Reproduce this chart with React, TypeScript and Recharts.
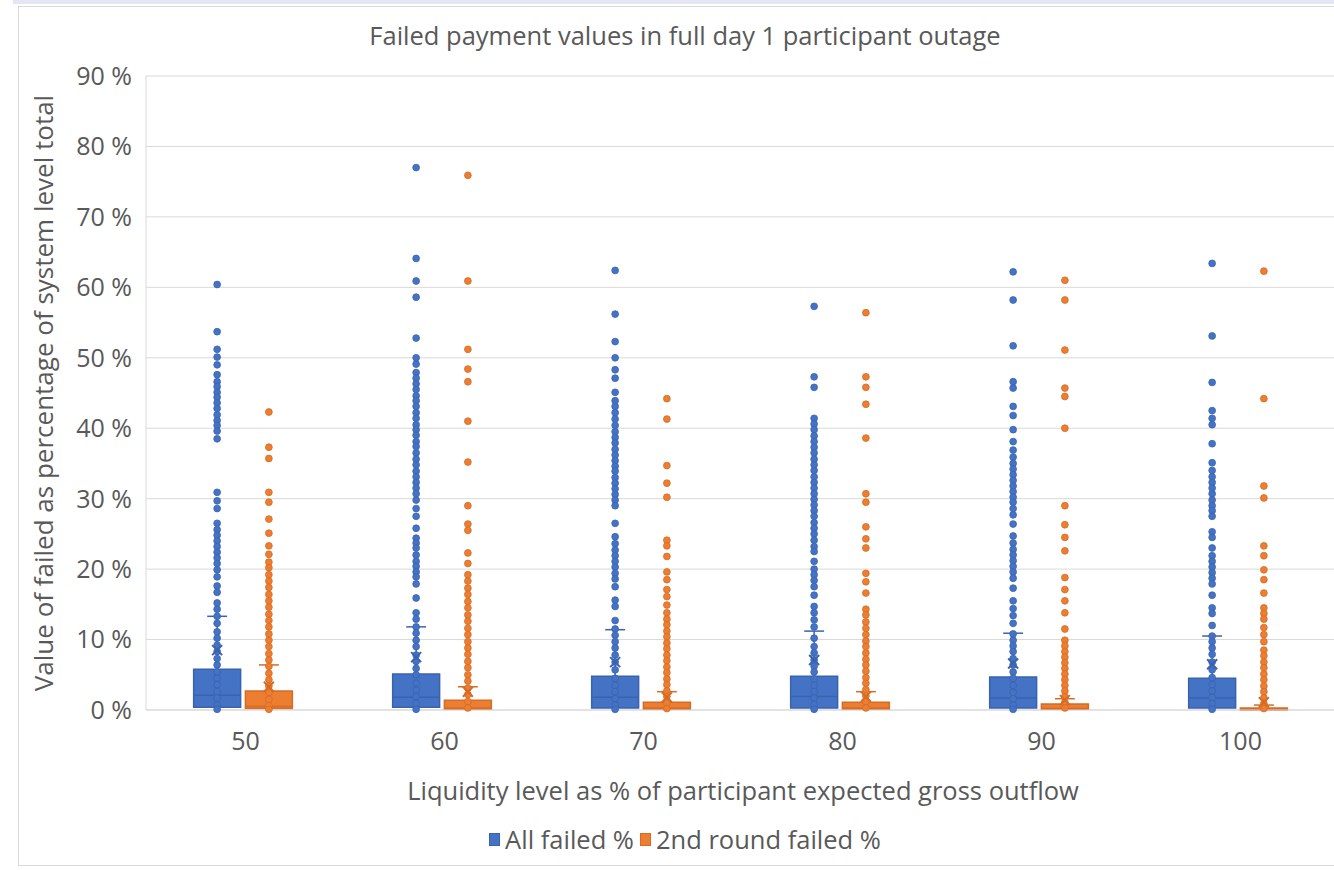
import React from 'react';
import {
  ComposedChart,
  Scatter,
  XAxis,
  YAxis,
  CartesianGrid,
  ReferenceArea,
  ReferenceLine,
} from 'recharts';

const levels = ['50', '60', '70', '80', '90', '100'];
const yTicks = [0, 10, 20, 30, 40, 50, 60, 70, 80, 90];

// box statistics, % of system level total
const allQ1 = [0.4, 0.4, 0.3, 0.3, 0.3, 0.3];
const allMedian = [2.1, 1.8, 1.8, 1.9, 1.7, 1.7];
const allQ3 = [5.8, 5.1, 4.8, 4.8, 4.7, 4.5];
const allMean = [8.5, 7.5, 6.8, 7.1, 6.6, 6.5];
const allWhisker = [13.3, 11.8, 11.4, 11.2, 10.9, 10.5];

const r2Q1 = [0.2, 0.1, 0.1, 0.1, 0.1, 0.0];
const r2Median = [0.5, 0.3, 0.3, 0.3, 0.2, 0.1];
const r2Q3 = [2.7, 1.4, 1.1, 1.1, 0.85, 0.3];
const r2Mean = [3.3, 2.6, 1.8, 1.9, 1.4, 1.1];
const r2Whisker = [6.4, 3.3, 2.6, 2.6, 1.6, 0.7];

// individual runs (all points shown)
const allFailed50 = [60.4, 53.7, 51.2, 50.1, 49.0, 47.6, 46.6, 45.9, 45.1, 44.4, 43.6, 42.8, 41.9, 41.1, 40.4, 39.6, 38.5,
  30.9, 29.7, 28.6, 26.5, 25.6, 24.8, 24.0, 23.2, 22.4, 21.6, 20.8, 19.9, 18.9, 17.6, 16.7, 15.2, 14.3, 13.3, 12.3,
  11.1, 10.2, 9.2, 8.3, 7.3, 6.4, 5.4, 4.5, 3.6, 2.6, 1.7, 0.7, 0.1];
const allFailed60 = [77.0, 64.1, 60.9, 58.6, 52.8, 50.0, 49.1, 47.9, 47.1, 46.3, 45.5, 44.6, 43.9, 43.1, 42.2, 41.4, 40.5,
  39.8, 39.0, 38.1, 37.4, 36.5, 35.6, 34.8, 33.9, 33.1, 32.3, 31.5, 30.7, 29.8, 28.6, 27.5, 25.8, 24.4, 23.7, 23.0,
  22.0, 21.1, 20.4, 19.6, 18.9, 17.9, 15.9, 13.8, 12.9, 11.8, 10.9, 9.9, 9.0, 7.8, 6.9, 5.9, 5.0, 3.8, 2.8, 1.9, 0.9, 0.1];
const allFailed70 = [62.4, 56.2, 52.3, 50.0, 48.3, 47.1, 45.1, 43.9, 43.1, 42.2, 41.3, 40.4, 39.5, 38.7, 37.9, 37.0, 36.2,
  35.4, 34.6, 33.9, 33.0, 32.2, 31.4, 30.6, 29.8, 29.0, 26.5, 24.6, 23.6, 22.7, 21.9, 21.1, 20.3, 19.4, 18.6, 17.5,
  15.6, 14.7, 12.7, 11.5, 10.6, 9.7, 8.8, 7.8, 6.8, 5.7, 4.5, 3.5, 2.6, 1.6, 0.7, 0.1];
const allFailed80 = [57.3, 47.3, 45.8, 41.4, 40.6, 39.8, 38.9, 38.1, 37.3, 36.5, 35.6, 34.8, 34.0, 33.1, 32.3, 31.5, 30.7,
  29.9, 29.1, 28.3, 27.5, 26.6, 25.8, 25.0, 24.1, 23.2, 22.5, 21.1, 20.0, 19.2, 18.4, 17.5, 16.3, 14.7, 13.8, 12.8,
  11.8, 10.2, 9.0, 8.1, 7.1, 6.2, 5.4, 4.4, 3.5, 2.6, 1.7, 0.8, 0.1];
const allFailed90 = [62.2, 58.2, 51.7, 46.6, 45.7, 43.1, 41.8, 39.8, 38.1, 36.9, 35.9, 35.0, 34.2, 33.4, 32.6, 31.8, 31.0,
  30.2, 29.5, 28.6, 27.7, 26.4, 24.7, 23.7, 22.8, 22.0, 21.2, 20.4, 19.6, 18.7, 17.3, 15.5, 14.4, 13.4, 12.3, 10.8,
  9.9, 9.1, 8.3, 7.3, 6.4, 5.4, 4.5, 3.5, 2.5, 1.6, 0.7, 0.1];
const allFailed100 = [63.4, 53.1, 46.5, 42.5, 41.4, 40.5, 37.8, 35.1, 34.0, 33.1, 32.3, 31.5, 30.7, 29.8, 29.0, 28.3, 27.5,
  25.3, 24.5, 23.0, 21.9, 21.1, 20.3, 19.5, 18.7, 17.9, 16.3, 14.5, 13.7, 12.0, 10.5, 9.7, 8.8, 7.9, 6.8, 5.7,
  4.6, 3.6, 2.7, 1.8, 0.9, 0.1];

const round2Failed50 = [42.3, 37.3, 35.7, 30.9, 29.5, 27.1, 25.1, 23.3, 22.1, 21.0, 20.2, 19.2, 18.3, 17.4, 16.4, 15.5,
  14.6, 13.6, 12.7, 11.8, 10.8, 9.9, 9.0, 8.0, 7.1, 6.2, 5.2, 4.3, 3.4, 2.5, 1.5, 0.6, 0.1];
const round2Failed60 = [75.9, 60.9, 51.2, 48.4, 46.6, 41.0, 35.2, 29.0, 26.4, 25.5, 22.3, 20.8, 19.2, 18.3, 17.3, 16.4,
  15.4, 14.5, 13.5, 12.6, 11.6, 10.7, 9.7, 8.8, 7.9, 6.9, 6.0, 5.0, 4.1, 3.1, 2.2, 1.2, 0.3];
const round2Failed70 = [44.2, 41.3, 34.7, 32.2, 30.2, 24.1, 23.3, 21.8, 19.6, 18.5, 17.1, 16.1, 14.9, 13.8, 12.9, 12.1,
  11.2, 10.4, 9.5, 8.7, 7.8, 7.0, 6.1, 5.3, 4.4, 3.6, 2.7, 1.9, 1.0, 0.2];
const round2Failed80 = [56.4, 47.3, 45.8, 43.4, 38.6, 30.7, 29.5, 26.0, 24.3, 23.0, 19.4, 18.2, 16.6, 14.3, 13.5, 12.5,
  11.6, 10.7, 9.8, 9.0, 8.1, 7.2, 6.4, 5.5, 4.6, 3.8, 2.9, 2.0, 1.2, 0.3];
const round2Failed90 = [61.0, 58.2, 51.1, 45.7, 44.5, 40.0, 29.0, 26.3, 24.5, 22.6, 18.8, 17.1, 15.5, 13.8, 11.5, 9.9,
  9.1, 8.3, 7.5, 6.7, 5.9, 5.1, 4.3, 3.5, 2.7, 1.9, 1.1, 0.3];
const round2Failed100 = [62.3, 44.2, 31.8, 30.1, 23.3, 21.9, 19.9, 18.5, 16.6, 14.5, 13.7, 12.9, 11.7, 10.7, 9.7, 8.5,
  7.7, 6.8, 6.0, 5.1, 4.3, 3.4, 2.6, 1.7, 0.9, 0.2];

const BOX_W = 0.236;
const CAP_W = 0.1;
const TEXT = '#595959';
const GRID = '#d9d9d9';
const FONT = '"Open Sans", sans-serif';

const series = [
  {
    name: 'All failed %', fill: '#4472C4', edge: '#3A63AE', offset: -0.1425,
    points: [allFailed50, allFailed60, allFailed70, allFailed80, allFailed90, allFailed100],
    q1: allQ1, median: allMedian, q3: allQ3, mean: allMean, whisker: allWhisker,
  },
  {
    name: '2nd round failed %', fill: '#ED7D31', edge: '#D46C26', offset: 0.1175,
    points: [round2Failed50, round2Failed60, round2Failed70, round2Failed80, round2Failed90, round2Failed100],
    q1: r2Q1, median: r2Median, q3: r2Q3, mean: r2Mean, whisker: r2Whisker,
  },
];

const Dot = (fill: string, edge: string) => (p: any) => (
  <circle cx={p.cx} cy={p.cy} r={3.4} fill={fill} stroke={edge} strokeWidth={0.8} />
);

const MeanMark = (edge: string) => (p: any) => (
  <g stroke={edge} strokeWidth={2}>
    <line x1={p.cx - 5} y1={p.cy - 5} x2={p.cx + 5} y2={p.cy + 5} />
    <line x1={p.cx - 5} y1={p.cy + 5} x2={p.cx + 5} y2={p.cy - 5} />
  </g>
);

export default function App() {
  return (
    <div
      style={{
        position: 'absolute', left: 0, top: 0, width: 1334, height: 870,
        overflow: 'hidden', background: '#fff', fontFamily: FONT,
      }}
    >
      <div style={{ position: 'absolute', left: 13, top: 0, width: 1330, height: 4, background: '#e4e6f4' }} />
      <div style={{ position: 'absolute', left: 18, top: 6, width: 1400, height: 858, border: `1px solid ${GRID}` }} />
      <div
        style={{
          position: 'absolute', left: 0, top: 18, width: 1370, textAlign: 'center',
          fontSize: 25.5, color: TEXT,
        }}
      >
        Failed payment values in full day 1 participant outage
      </div>

      <div style={{ position: 'absolute', left: 0, top: 0 }}>
        <ComposedChart width={1376} height={870} margin={{ top: 76, right: 36, bottom: 65, left: 46 }}>
          <CartesianGrid vertical={false} stroke={GRID} />
          <XAxis
            type="number"
            dataKey="x"
            domain={[0, 6]}
            ticks={[0.5, 1.5, 2.5, 3.5, 4.5, 5.5]}
            tickFormatter={(v: number) => levels[Math.floor(v)]}
            axisLine={{ stroke: GRID }}
            tickLine={false}
            tick={{ fill: TEXT, fontSize: 25 }}
            tickMargin={16}
            height={95}
            label={{
              value: 'Liquidity level as % of participant expected gross outflow',
              position: 'insideBottom', offset: 5, fill: TEXT, fontSize: 25.5,
            }}
          />
          <YAxis
            type="number"
            dataKey="y"
            domain={[0, 90]}
            ticks={yTicks}
            tickFormatter={(v: number) => `${v} %`}
            axisLine={{ stroke: GRID }}
            tickLine={false}
            tick={{ fill: TEXT, fontSize: 25 }}
            tickMargin={8}
            width={100}
            label={{
              value: 'Value of failed  as percentage of system level total',
              angle: -90, position: 'insideLeft', offset: -2, fill: TEXT, fontSize: 26,
              style: { textAnchor: 'middle', whiteSpace: 'pre' },
            }}
          />

          {series.flatMap((s) =>
            levels.map((lv, i) => {
              const c = i + 0.5 + s.offset;
              return (
                <ReferenceArea
                  key={`box-${s.name}-${lv}`}
                  x1={c - BOX_W / 2}
                  x2={c + BOX_W / 2}
                  y1={s.q1[i]}
                  y2={s.q3[i]}
                  fill={s.fill}
                  fillOpacity={1}
                  stroke={s.edge}
                  strokeWidth={1.5}
                />
              );
            })
          )}
          {series.flatMap((s) =>
            levels.flatMap((lv, i) => {
              const c = i + 0.5 + s.offset;
              return [
                <ReferenceLine key={`med-${s.name}-${lv}`} stroke={s.edge} strokeWidth={1.5}
                  segment={[{ x: c - BOX_W / 2, y: s.median[i] }, { x: c + BOX_W / 2, y: s.median[i] }]} />,
                <ReferenceLine key={`wh-${s.name}-${lv}`} stroke={s.edge} strokeWidth={1.5}
                  segment={[{ x: c, y: s.q3[i] }, { x: c, y: s.whisker[i] }]} />,
                <ReferenceLine key={`cap-${s.name}-${lv}`} stroke={s.edge} strokeWidth={1.5}
                  segment={[{ x: c - CAP_W / 2, y: s.whisker[i] }, { x: c + CAP_W / 2, y: s.whisker[i] }]} />,
              ];
            })
          )}

          {series.map((s) => (
            <Scatter
              key={`pts-${s.name}`}
              name={s.name}
              data={s.points.flatMap((vals, i) => vals.map((v) => ({ x: i + 0.5 + s.offset, y: v })))}
              shape={Dot(s.fill, s.edge)}
              isAnimationActive={false}
            />
          ))}
          {series.map((s) => (
            <Scatter
              key={`mean-${s.name}`}
              data={s.mean.map((v, i) => ({ x: i + 0.5 + s.offset, y: v }))}
              shape={MeanMark(s.edge)}
              legendType="none"
              isAnimationActive={false}
            />
          ))}
        </ComposedChart>
      </div>

      <div
        style={{
          position: 'absolute', left: 0, top: 822, width: 1376, display: 'flex',
          justifyContent: 'center', alignItems: 'center', fontSize: 25.5, color: TEXT,
        }}
      >
        {series.map((s) => (
          <span key={s.name} style={{ display: 'flex', alignItems: 'center', marginRight: 6 }}>
            <span style={{ width: 11, height: 13, background: s.fill, border: `1px solid ${s.edge}`, marginRight: 5, boxSizing: 'border-box' }} />
            {s.name}
          </span>
        ))}
      </div>
    </div>
  );
}
